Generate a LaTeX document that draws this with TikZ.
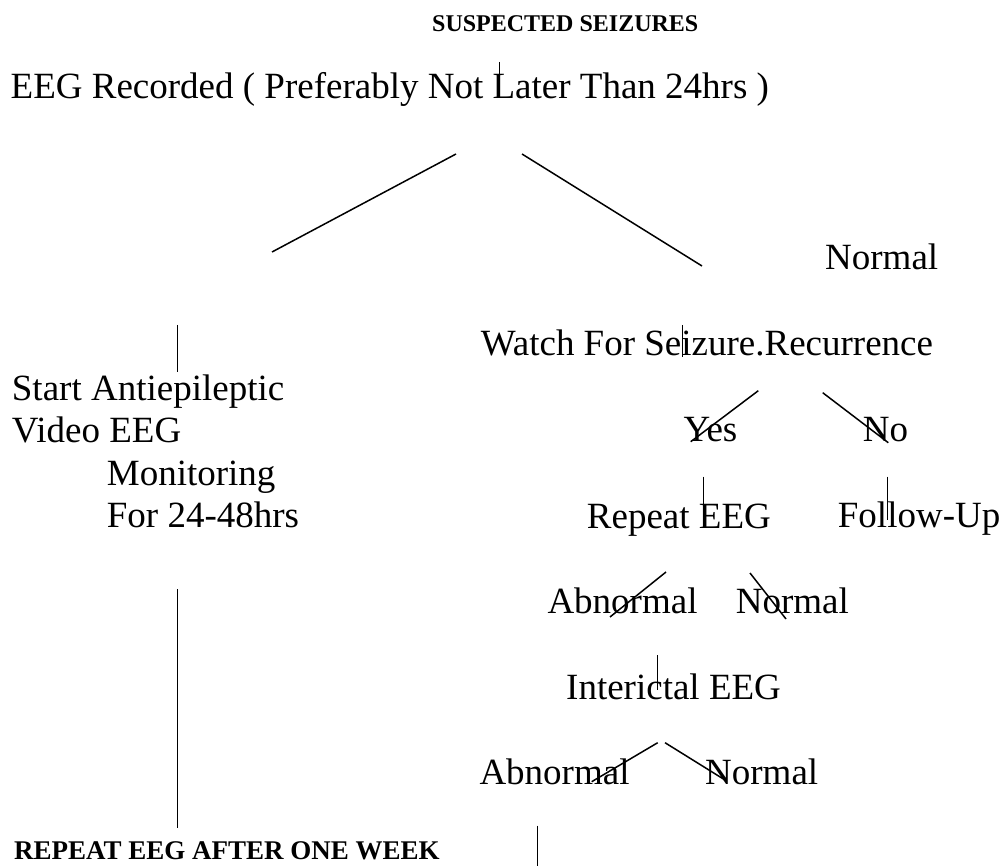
\documentclass[tikz,border=0pt]{standalone}
\usepackage{fontspec}
\setmainfont{Liberation Serif}
\begin{document}
\begin{tikzpicture}[x=1pt,y=-1pt,
  txt/.style={anchor=base west,inner sep=0pt,font=\fontsize{37}{44}\selectfont},
  ttl/.style={anchor=base west,inner sep=0pt,font=\fontsize{24}{28}\selectfont\bfseries},
  big/.style={anchor=base west,inner sep=0pt,font=\fontsize{27}{32}\selectfont\bfseries},
  ln/.style={line width=1.5pt,line cap=butt}]
\useasboundingbox (0,0) rectangle (1004,866);
% texts
\node[ttl] (title) at (432,31.7) {SUSPECTED SEIZURES};
\node[txt] (eeg) at (10.5,98.3) {EEG Recorded ( Preferably Not Later Than 24hrs )};
\node[txt] (normal0) at (825,270) {Normal};
\node[txt] (start) at (11.7,400) {Start Antiepileptic};
\node[txt] (video) at (11.7,442.3) {Video EEG};
\node[txt] (monit) at (106.7,485) {Monitoring};
\node[txt] (forh) at (106.7,527.3) {For 24-48hrs};
\node[txt] (watch) at (480.7,355.7) {Watch For Seizure\rlap{.} Recurrence};
\node[txt] (yes) at (683.3,441.7) {Yes};
\node[txt] (no) at (862.7,441.7) {No};
\node[txt] (repeat) at (586.7,528.3) {Repeat EEG};
\node[txt] (follow) at (837.7,527.3) {Follow-Up};
\node[txt] (abn1) at (547.3,613.3) {Abnormal};
\node[txt] (nor1) at (735.7,613.3) {Normal};
\node[txt] (inter) at (566,699) {Interictal EEG};
\node[txt] (abn2) at (479.3,784) {Abnormal};
\node[txt] (nor2) at (705,784) {Normal};
\node[big] (week) at (14,859) {REPEAT EEG AFTER ONE WEEK};
% connector end points
\coordinate (a1) at (499.3,62);   \coordinate (a2) at (499.3,97);
\coordinate (b1) at (272,252);    \coordinate (b2) at (456,154);
\coordinate (c1) at (522,154);    \coordinate (c2) at (702,266);
\coordinate (d1) at (177.7,325);  \coordinate (d2) at (177.7,371.7);
\coordinate (e1) at (682.3,325);  \coordinate (e2) at (682.3,356.7);
\coordinate (f1) at (758.3,390.7);\coordinate (f2) at (690.7,441.7);
\coordinate (g1) at (822.7,392.7);\coordinate (g2) at (888.3,442.7);
\coordinate (h1) at (703.3,476.7);\coordinate (h2) at (703.3,527.3);
\coordinate (i1) at (887.7,476.7);\coordinate (i2) at (887.7,520);
\coordinate (j1) at (666,572);    \coordinate (j2) at (610,617);
\coordinate (k1) at (750,573);    \coordinate (k2) at (786,619);
\coordinate (l1) at (657.7,655);  \coordinate (l2) at (657.7,690);
\coordinate (m1) at (657.7,742.7);\coordinate (m2) at (591.7,781.7);
\coordinate (n1) at (665,742.7);  \coordinate (n2) at (725,780);
\coordinate (o1) at (177.7,589.3);\coordinate (o2) at (177.7,828.3);
\coordinate (p1) at (537.3,825.7);\coordinate (p2) at (537.3,866);
% connectors
\foreach \s in {a,b,c,d,e,f,g,h,i,j,k,l,m,n,o,p}{
  \draw[ln] (\s1) -- (\s2);
}
\end{tikzpicture}
\end{document}
